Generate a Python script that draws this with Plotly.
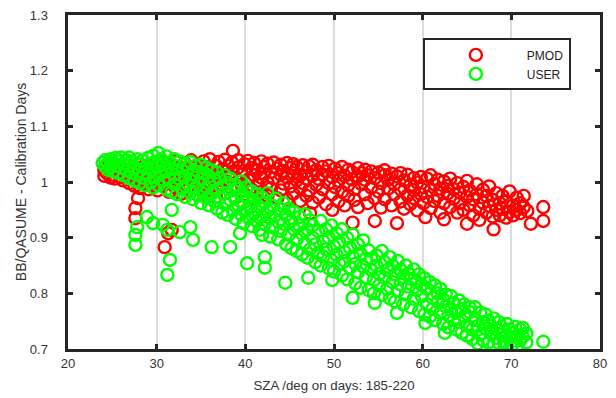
import plotly.graph_objects as go

# ---- PMOD (red) : SZA [deg] and ratio ----
PMOD_SZA = [
    24.1, 24.1, 24.4, 24.4, 24.8, 24.8, 25.1, 25.1, 25.3, 25.6, 25.6, 25.9, 25.9,
    26.2, 26.2, 26.6, 26.6, 26.9, 26.9, 27.2, 27.2, 27.5, 27.5, 27.9, 27.9, 27.9,
    28.2, 28.2, 28.5, 28.5, 28.8, 28.8, 29.1, 29.1, 29.4, 29.4, 29.7, 29.7,
    30.1, 30.1, 30.1, 30.4, 30.4, 30.7, 30.7, 31.1, 31.1, 31.1, 31.4, 31.4, 31.8, 31.8,
    32.1, 32.1, 32.1, 32.5, 32.5, 32.8, 32.8, 33.2, 33.2, 33.2, 33.5, 33.5, 33.9, 33.9,
    34.2, 34.2, 34.6, 34.6, 34.6, 34.9, 34.9, 35.3, 35.3, 35.6, 35.6, 35.6, 36.0, 36.0,
    36.3, 36.3, 36.7, 36.7, 36.7, 37.0, 37.0, 37.4, 37.4, 37.7, 37.7, 38.1, 38.1,
    38.5, 38.5, 38.5, 38.6, 38.9, 38.9, 39.2, 39.2, 39.6, 39.6, 39.9, 39.9, 39.9,
    40.3, 40.3, 40.7, 40.7, 41.0, 41.0, 41.0, 41.4, 41.4, 41.8, 41.8, 41.8, 42.1, 42.1,
    42.5, 42.5, 42.5, 42.9, 42.9, 43.2, 43.2, 43.6, 43.6, 44.0, 44.0, 44.0, 44.3, 44.3,
    44.7, 44.7, 44.7, 45.1, 45.1, 45.4, 45.4, 45.4, 45.8, 45.8, 46.2, 46.2, 46.2,
    46.5, 46.5, 46.9, 46.9, 46.9, 47.2, 47.2, 47.3, 47.6, 47.6, 47.6, 48.0, 48.0,
    48.3, 48.3, 48.7, 48.7, 48.7, 49.1, 49.1, 49.4, 49.4, 49.8, 49.8, 49.8,
    50.1, 50.1, 50.5, 50.5, 50.5, 50.9, 50.9, 51.2, 51.2, 51.6, 51.6, 51.6, 52.0, 52.0,
    52.1, 52.3, 52.3, 52.7, 52.7, 52.7, 53.1, 53.1, 53.5, 53.5, 53.5, 53.8, 53.8,
    54.2, 54.2, 54.6, 54.6, 54.6, 55.0, 55.0, 55.3, 55.3, 55.7, 55.7, 55.7,
    56.1, 56.1, 56.5, 56.5, 56.8, 56.8, 57.1, 57.1, 57.5, 57.5, 57.5, 57.9, 57.9,
    58.3, 58.3, 58.6, 58.6, 59.0, 59.0, 59.0, 59.4, 59.4, 59.8, 59.8,
    60.1, 60.1, 60.3, 60.5, 60.5, 60.9, 60.9, 60.9, 61.3, 61.3, 61.7, 61.7,
    62.0, 62.0, 62.4, 62.4, 62.4, 62.8, 62.8, 63.1, 63.1, 63.5, 63.5, 63.9, 63.9,
    64.2, 64.2, 64.6, 64.6, 65.0, 65.0, 65.0, 65.3, 65.3, 65.7, 65.7,
    66.1, 66.1, 66.4, 66.4, 66.8, 66.8, 67.2, 67.2, 67.5, 67.5, 67.9, 67.9, 68.0,
    68.3, 68.3, 68.7, 68.7, 69.0, 69.0, 69.4, 69.4, 69.8, 69.8,
    70.2, 70.2, 70.6, 70.6, 71.0, 71.0, 71.4, 71.4, 71.8, 72.2, 73.6, 73.6,
    27.6, 27.6, 27.9, 28.1, 30.9, 31.3, 31.7,
]
PMOD_RATIO = [
    1.021, 1.011, 1.016, 1.026, 1.008, 1.019, 1.023, 1.013, 1.006, 1.017, 1.027, 1.009, 1.020,
    1.003, 1.025, 1.014, 1.029, 0.998, 1.019, 1.008, 1.026, 0.993, 1.015, 1.022, 1.003, 1.031,
    0.990, 1.012, 1.027, 0.998, 1.018, 1.006, 0.987, 1.030, 1.011, 1.022, 0.996, 1.034,
    1.005, 1.026, 0.985, 1.016, 1.036, 0.993, 1.009, 1.024, 1.001, 1.032, 0.982, 1.014, 1.029, 1.006,
    0.990, 1.019, 1.037, 1.002, 1.027, 0.979, 1.013, 1.033, 0.996, 1.021, 1.008, 0.985, 1.026, 1.039,
    0.992, 1.015, 1.031, 1.003, 0.977, 1.021, 0.988, 1.037, 1.011, 0.995, 1.027, 0.976, 1.017, 1.041,
    0.984, 1.005, 1.029, 1.013, 0.973, 1.036, 0.993, 1.022, 1.003, 0.980, 1.040, 1.011, 1.029,
    0.988, 1.035, 1.018, 1.056, 0.972, 1.006, 1.026, 1.039, 0.995, 1.014, 1.032, 0.978, 1.020,
    1.004, 1.038, 0.987, 1.025, 1.012, 0.970, 1.034, 1.021, 0.996, 1.037, 0.982, 1.008, 1.027, 1.015,
    0.975, 1.033, 0.999, 1.018, 0.989, 1.035, 1.006, 0.971, 1.024, 1.013, 1.031, 0.985, 0.997, 1.020,
    1.034, 0.968, 1.008, 1.025, 0.992, 0.979, 1.016, 1.032, 1.003, 1.027, 0.966, 1.012, 0.989,
    1.030, 0.998, 1.019, 0.975, 1.006, 1.028, 0.985, 0.944, 1.012, 0.963, 1.031, 0.995, 1.021,
    1.005, 0.972, 1.027, 0.987, 1.014, 0.960, 1.019, 1.029, 0.998, 0.950, 1.009, 0.978,
    1.024, 0.991, 1.016, 0.965, 1.002, 1.027, 0.982, 0.958, 1.011, 0.994, 1.022, 0.975, 1.005, 1.018,
    0.927, 0.968, 0.987, 1.025, 1.010, 0.955, 0.996, 1.016, 0.978, 1.004, 1.022, 0.962, 1.012,
    0.990, 1.019, 0.930, 0.971, 1.007, 1.017, 0.983, 0.954, 0.998, 1.012, 1.021, 0.969,
    0.988, 1.004, 0.958, 1.015, 0.978, 0.996, 0.926, 1.010, 0.965, 0.987, 1.016, 1.003, 0.952,
    0.976, 1.013, 0.994, 0.960, 1.007, 0.971, 0.985, 0.949, 0.999, 1.009, 0.978,
    0.962, 0.991, 0.937, 1.006, 0.973, 0.953, 0.985, 1.012, 0.996, 0.966, 0.975, 1.004,
    0.945, 0.988, 1.001, 0.962, 0.933, 0.979, 0.993, 0.955, 1.006, 0.970, 0.987, 0.945, 0.998,
    0.962, 0.981, 0.991, 0.950, 0.925, 0.973, 1.002, 0.958, 0.985, 0.940, 0.969,
    0.996, 0.978, 0.952, 0.932, 0.986, 0.963, 0.945, 0.975, 0.992, 0.957, 0.938, 0.968, 0.915,
    0.980, 0.950, 0.962, 0.940, 0.975, 0.952, 0.936, 0.965, 0.983, 0.946,
    0.958, 0.940, 0.972, 0.950, 0.962, 0.944, 0.975, 0.955, 0.948, 0.925, 0.955, 0.930,
    0.953, 0.935, 0.971, 0.989, 0.883, 0.908, 0.914,
]

# ---- USER (green) : SZA [deg] and ratio ----
USER_SZA = [
    23.9, 24.2, 24.2, 24.5, 24.5, 24.8, 24.8, 25.1, 25.1, 25.4, 25.4, 25.7, 25.7,
    26.0, 26.0, 26.3, 26.3, 26.6, 26.6, 26.9, 26.9, 26.9, 27.2, 27.2, 27.5, 27.5,
    27.8, 27.8, 28.1, 28.1, 28.1, 28.4, 28.4, 28.7, 28.7, 29.0, 29.0, 29.3, 29.3,
    29.6, 29.6, 29.6, 29.9, 29.9, 30.2, 30.2, 30.2, 30.5, 30.5, 30.8, 30.8,
    31.1, 31.1, 31.1, 31.4, 31.4, 31.7, 31.7, 32.0, 32.0, 32.0, 32.3, 32.3, 32.6, 32.6,
    32.9, 32.9, 33.2, 33.2, 33.2, 33.5, 33.5, 33.8, 33.8, 34.1, 34.1, 34.1, 34.4, 34.4,
    34.7, 34.7, 35.0, 35.0, 35.0, 35.3, 35.3, 35.6, 35.6, 35.9, 35.9, 35.9,
    36.2, 36.2, 36.5, 36.5, 36.8, 36.8, 36.8, 37.1, 37.1, 37.4, 37.4, 37.7, 37.7, 37.7,
    38.0, 38.0, 38.3, 38.3, 38.6, 38.6, 38.9, 38.9, 38.9, 39.2, 39.2, 39.5, 39.5,
    39.8, 39.8, 39.8, 40.1, 40.1, 40.4, 40.4, 40.7, 40.7, 40.7, 41.0, 41.0, 41.3, 41.3,
    41.6, 41.6, 41.9, 41.9, 41.9, 42.2, 42.2, 42.5, 42.5, 42.8, 42.8, 43.1, 43.1,
    43.4, 43.4, 43.7, 43.7, 44.0, 44.0, 44.3, 44.3, 44.6, 44.6, 44.9, 44.9,
    45.2, 45.2, 45.5, 45.5, 45.8, 45.8, 46.1, 46.1, 46.4, 46.4, 46.7, 46.7,
    47.0, 47.0, 47.3, 47.3, 47.6, 47.6, 47.9, 47.9, 48.2, 48.2, 48.5, 48.5,
    48.8, 48.8, 49.1, 49.1, 49.4, 49.4, 49.7, 49.7, 50.0, 50.0, 50.3, 50.3,
    50.6, 50.6, 50.9, 50.9, 51.2, 51.2, 51.5, 51.5, 51.8, 51.8, 52.1, 52.1,
    52.4, 52.4, 52.7, 52.7, 53.0, 53.0, 53.3, 53.3, 53.6, 53.6, 53.9, 53.9,
    54.2, 54.2, 54.5, 54.5, 54.8, 54.8, 55.1, 55.1, 55.4, 55.4, 55.7, 55.7,
    56.0, 56.0, 56.3, 56.3, 56.6, 56.6, 56.9, 56.9, 57.2, 57.2, 57.5, 57.5,
    57.8, 57.8, 58.1, 58.1, 58.4, 58.4, 58.7, 58.7, 59.0, 59.0, 59.3, 59.3,
    59.6, 59.6, 59.9, 59.9, 60.2, 60.2, 60.5, 60.5, 60.8, 60.8, 61.1, 61.1,
    61.4, 61.4, 61.7, 61.7, 62.0, 62.0, 62.3, 62.3, 62.6, 62.6, 62.9, 62.9,
    63.2, 63.2, 63.5, 63.5, 63.8, 63.8, 64.1, 64.1, 64.4, 64.4, 64.7, 64.7,
    65.0, 65.0, 65.3, 65.3, 65.6, 65.6, 65.9, 65.9, 66.2, 66.2, 66.5, 66.5,
    66.8, 66.8, 67.1, 67.1, 67.4, 67.4, 67.7, 67.7, 68.0, 68.0, 68.3, 68.3,
    68.6, 68.6, 68.9, 68.9, 69.2, 69.2, 69.5, 69.5, 69.8, 69.8, 70.1, 70.1,
    70.4, 70.4, 70.7, 70.7, 71.0, 71.0, 71.3, 71.3, 71.7, 71.7, 73.6,
    27.6, 27.6, 27.8, 28.9, 29.6, 30.7, 31.7, 31.2, 31.5, 31.2,
    32.6, 33.8, 34.1, 36.2, 38.3, 39.4, 40.2, 42.2, 42.2, 44.5,
    47.1, 49.8, 52.1, 54.6, 57.1, 60.3, 62.5,
]
USER_RATIO = [
    1.034, 1.028, 1.039, 1.022, 1.033, 1.041, 1.027, 1.019, 1.035, 1.029, 1.043, 1.016, 1.037,
    1.026, 1.044, 1.012, 1.033, 1.039, 1.021, 1.007, 1.030, 1.044, 1.017, 1.036, 1.002, 1.026,
    1.041, 1.013, 0.998, 1.031, 1.020, 1.038, 1.008, 1.025, 0.994, 1.043, 1.015, 0.999, 1.033,
    1.022, 1.047, 0.990, 1.009, 1.036, 1.052, 1.027, 0.994, 1.016, 1.041, 1.003, 1.031,
    0.987, 1.046, 1.019, 1.034, 1.007, 0.982, 1.024, 1.041, 0.996, 1.013, 1.028, 0.978, 1.005, 1.037,
    0.988, 1.020, 1.032, 0.973, 1.009, 0.997, 1.025, 1.036, 0.981, 1.014, 0.969, 1.002, 1.029, 0.990,
    0.976, 1.018, 1.005, 1.031, 0.962, 0.985, 1.016, 1.026, 0.971, 0.958, 0.997, 1.010,
    1.021, 0.979, 0.965, 1.003, 0.987, 1.017, 0.952, 1.007, 0.972, 0.945, 0.992, 1.012, 0.960, 0.980,
    0.998, 0.941, 0.968, 1.006, 0.985, 0.949, 0.934, 0.995, 0.973, 0.958, 0.988, 1.001, 0.942,
    0.926, 0.976, 0.963, 0.990, 0.950, 0.935, 0.971, 0.983, 0.956, 0.921, 0.944, 0.967, 0.978, 0.930,
    0.914, 0.955, 0.938, 0.972, 0.905, 0.963, 0.924, 0.948, 0.980, 0.902, 0.935, 0.957, 0.918,
    0.970, 0.940, 0.897, 0.928, 0.951, 0.912, 0.962, 0.925, 0.888, 0.940, 0.905, 0.952,
    0.930, 0.881, 0.946, 0.915, 0.876, 0.897, 0.937, 0.922, 0.907, 0.870, 0.942, 0.890,
    0.915, 0.864, 0.931, 0.879, 0.900, 0.922, 0.856, 0.888, 0.912, 0.872, 0.930, 0.850,
    0.893, 0.866, 0.915, 0.879, 0.845, 0.900, 0.860, 0.922, 0.884, 0.839, 0.908, 0.869,
    0.853, 0.892, 0.832, 0.915, 0.874, 0.858, 0.899, 0.825, 0.846, 0.882, 0.866, 0.906,
    0.818, 0.853, 0.888, 0.838, 0.871, 0.810, 0.848, 0.895, 0.829, 0.862, 0.877, 0.806,
    0.842, 0.862, 0.800, 0.824, 0.868, 0.849, 0.815, 0.835, 0.876, 0.797, 0.856, 0.828,
    0.808, 0.842, 0.865, 0.791, 0.820, 0.850, 0.834, 0.785, 0.805, 0.858, 0.842, 0.816,
    0.780, 0.829, 0.850, 0.798, 0.812, 0.836, 0.775, 0.826, 0.843, 0.790, 0.806, 0.821,
    0.768, 0.834, 0.795, 0.815, 0.827, 0.762, 0.780, 0.808, 0.820, 0.758, 0.792, 0.772,
    0.814, 0.752, 0.785, 0.800, 0.765, 0.808, 0.745, 0.789, 0.776, 0.798, 0.739, 0.760,
    0.795, 0.770, 0.752, 0.782, 0.735, 0.765, 0.787, 0.748, 0.772, 0.729, 0.758, 0.780,
    0.724, 0.742, 0.766, 0.775, 0.735, 0.718, 0.752, 0.775, 0.710, 0.741, 0.765, 0.726,
    0.748, 0.716, 0.737, 0.762, 0.712, 0.751, 0.728, 0.742, 0.755, 0.709, 0.735, 0.720,
    0.748, 0.710, 0.726, 0.740, 0.712, 0.731, 0.745, 0.706, 0.720, 0.735, 0.708, 0.728,
    0.740, 0.715, 0.725, 0.706, 0.735, 0.716, 0.722, 0.738, 0.712, 0.728, 0.713,
    0.887, 0.905, 0.919, 0.937, 0.926, 0.923, 0.950, 0.914, 0.860, 0.833,
    0.910, 0.919, 0.896, 0.883, 0.883, 0.908, 0.854, 0.865, 0.846, 0.819,
    0.828, 0.824, 0.792, 0.783, 0.765, 0.747, 0.729,
]

assert len(PMOD_SZA) == len(PMOD_RATIO)
assert len(USER_SZA) == len(USER_RATIO)

X_TICKS = [20, 30, 40, 50, 60, 70, 80]
Y_TICKS = [0.7, 0.8, 0.9, 1.0, 1.1, 1.2, 1.3]
NB = "\u00a0"
Y_TICK_TEXT = [t + NB * 4 for t in ["0.7", "0.8", "0.9", "1", "1.1", "1.2", "1.3"]]
X_TITLE = "SZA /deg on days: 185-220"
Y_TITLE = "BB/QASUME - Calibration Days"

FONT = "Liberation Sans, Arial, sans-serif"
AXIS_COL = "#262626"
TEXT_COL = "#333333"

fig = go.Figure()
fig.add_trace(go.Scatter(
    x=PMOD_SZA, y=PMOD_RATIO, mode="markers", name="PMOD",
    marker=dict(symbol="circle-open", size=12, color="#ff0000",
                line=dict(width=2.4, color="#ff0000")),
))
fig.add_trace(go.Scatter(
    x=USER_SZA, y=USER_RATIO, mode="markers", name="USER",
    marker=dict(symbol="circle-open", size=12, color="#00ff00",
                line=dict(width=2.4, color="#00ff00")),
))

axis_common = dict(
    showline=True, linecolor=AXIS_COL, linewidth=3, mirror="ticks",
    ticks="inside", ticklen=5, tickwidth=3, tickcolor=AXIS_COL,
    tickfont=dict(family=FONT, size=13, color=TEXT_COL),
    ticklabeloverflow="allow",
    zeroline=False, automargin=False,
)

# page body has an 8px default margin, so the figure is 8px smaller than the window
fig.update_layout(
    template="none",
    width=608, height=390,
    margin=dict(l=60, r=16, t=7, b=49, pad=0),
    paper_bgcolor="white", plot_bgcolor="white",
    font=dict(family=FONT, size=13, color=TEXT_COL),
    xaxis=dict(
        range=[20, 80], tickvals=X_TICKS,
        showgrid=True, gridcolor="#dcdcdc", gridwidth=2,
        title=dict(text=X_TITLE, standoff=12,
                   font=dict(family=FONT, size=13.3, color=TEXT_COL)),
        **axis_common,
    ),
    yaxis=dict(
        range=[0.7, 1.3], tickvals=Y_TICKS, ticktext=Y_TICK_TEXT,
        showgrid=False,
        title=dict(text=Y_TITLE, standoff=0,
                   font=dict(family=FONT, size=14, color=TEXT_COL)),
        **axis_common,
    ),
    legend=dict(
        x=0.667, y=0.93, xanchor="left", yanchor="top",
        bgcolor="white", bordercolor=AXIS_COL, borderwidth=2,
        itemwidth=92,
        font=dict(family=FONT, size=12, color="#222222"),
    ),
    showlegend=True,
)

fig.write_html("out.html")
